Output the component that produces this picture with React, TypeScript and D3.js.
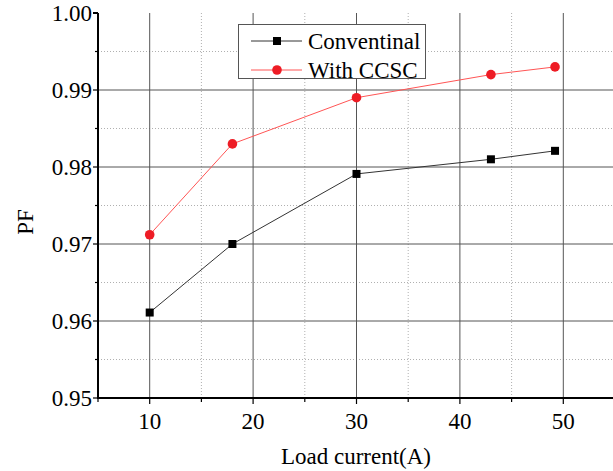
import * as d3 from "d3";

const loadCurrent = [10, 18, 30, 43, 49.2];
const conventional = [0.9611, 0.97, 0.9791, 0.981, 0.9821];
const withCcsc = [0.9712, 0.983, 0.989, 0.992, 0.993];
const xTicks = [10, 20, 30, 40, 50];
const yTicks = [0.95, 0.96, 0.97, 0.98, 0.99, 1.0];

const width = 613;
const height = 471;
const textStyle = { fontFamily: "Liberation Serif", fontSize: "23px" };

export default function App() {
  const x = d3.scaleLinear().domain([5, 55]).range([98, 615]);
  const y = d3.scaleLinear().domain([0.95, 1.0]).range([398, 13]);

  const minorX = d3.range(5, 56, 5).filter((v) => v % 10 !== 0);
  const minorY = d3.range(0.955, 1.0, 0.01);

  const line = d3
    .line<number>()
    .x((_, i) => x(loadCurrent[i]))
    .y((d) => y(d));

  const left = x(5);
  const right = width;
  const top = y(1.0);
  const bottom = y(0.95);

  return (
    <svg
      width={width}
      height={height}
      style={{ position: "absolute", left: 0, top: 0, background: "#fff" }}
    >
      {/* minor grid */}
      <g stroke="#b0b0b0" strokeWidth={1} strokeDasharray="1,2">
        {minorX.map((v) => (
          <line key={"mx" + v} x1={x(v)} x2={x(v)} y1={top} y2={bottom} />
        ))}
        {minorY.map((v) => (
          <line key={"my" + v} x1={left} x2={right} y1={y(v)} y2={y(v)} />
        ))}
      </g>
      {/* major grid */}
      <g stroke="#555" strokeWidth={1}>
        {xTicks.map((v) => (
          <line key={"gx" + v} x1={x(v)} x2={x(v)} y1={top} y2={bottom} />
        ))}
        {yTicks.slice(1, -1).map((v) => (
          <line key={"gy" + v} x1={left} x2={right} y1={y(v)} y2={y(v)} />
        ))}
      </g>

      {/* axes */}
      <g stroke="#000" strokeWidth={2}>
        <line x1={left} x2={left} y1={top} y2={bottom + 1} />
        <line x1={left - 1} x2={right} y1={bottom} y2={bottom} />
        <line x1={left - 5} x2={left} y1={top} y2={top} />
      </g>
      <g stroke="#000" strokeWidth={1.2}>
        {yTicks.map((v) => (
          <line key={"ty" + v} x1={left - 5} x2={left} y1={y(v)} y2={y(v)} />
        ))}
        {minorY.map((v) => (
          <line key={"tmy" + v} x1={left - 3} x2={left} y1={y(v)} y2={y(v)} />
        ))}
        {xTicks.map((v) => (
          <line key={"tx" + v} x1={x(v)} x2={x(v)} y1={bottom} y2={bottom + 6} />
        ))}
        {minorX.map((v) => (
          <line key={"tmx" + v} x1={x(v)} x2={x(v)} y1={bottom} y2={bottom + 4} />
        ))}
      </g>

      {/* tick labels */}
      {yTicks.map((v) => (
        <text key={"ly" + v} x={left - 6} y={y(v) + 8} textAnchor="end" style={textStyle}>
          {v.toFixed(2)}
        </text>
      ))}
      {xTicks.map((v) => (
        <text key={"lx" + v} x={x(v)} y={bottom + 31} textAnchor="middle" style={textStyle}>
          {v}
        </text>
      ))}
      <text x={356} y={464} textAnchor="middle" style={textStyle}>
        Load current(A)
      </text>
      <text transform={`translate(33,222) rotate(-90)`} textAnchor="middle" style={textStyle}>
        PF
      </text>

      {/* series */}
      <path d={line(conventional) ?? ""} fill="none" stroke="#333" strokeWidth={1} />
      <path d={line(withCcsc) ?? ""} fill="none" stroke="#f55" strokeWidth={1} />
      {conventional.map((v, i) => (
        <rect
          key={"c" + i}
          x={x(loadCurrent[i]) - 4}
          y={y(v) - 4}
          width={8}
          height={8}
          fill="#000"
        />
      ))}
      {withCcsc.map((v, i) => (
        <circle key={"w" + i} cx={x(loadCurrent[i])} cy={y(v)} r={4.8} fill="#ee1c25" />
      ))}

      {/* legend */}
      <rect x={238.5} y={24.5} width={187} height={54} fill="#fff" stroke="#555" strokeWidth={1} />
      <line x1={251} x2={302} y1={41} y2={41} stroke="#333" strokeWidth={1} />
      <rect x={273} y={37} width={8} height={8} fill="#000" />
      <line x1={251} x2={302} y1={70} y2={70} stroke="#f55" strokeWidth={1} />
      <circle cx={277} cy={70} r={4.8} fill="#ee1c25" />
      <text x={308} y={49} style={textStyle}>Conventinal</text>
      <text x={308} y={78} style={textStyle}>With CCSC</text>
    </svg>
  );
}
